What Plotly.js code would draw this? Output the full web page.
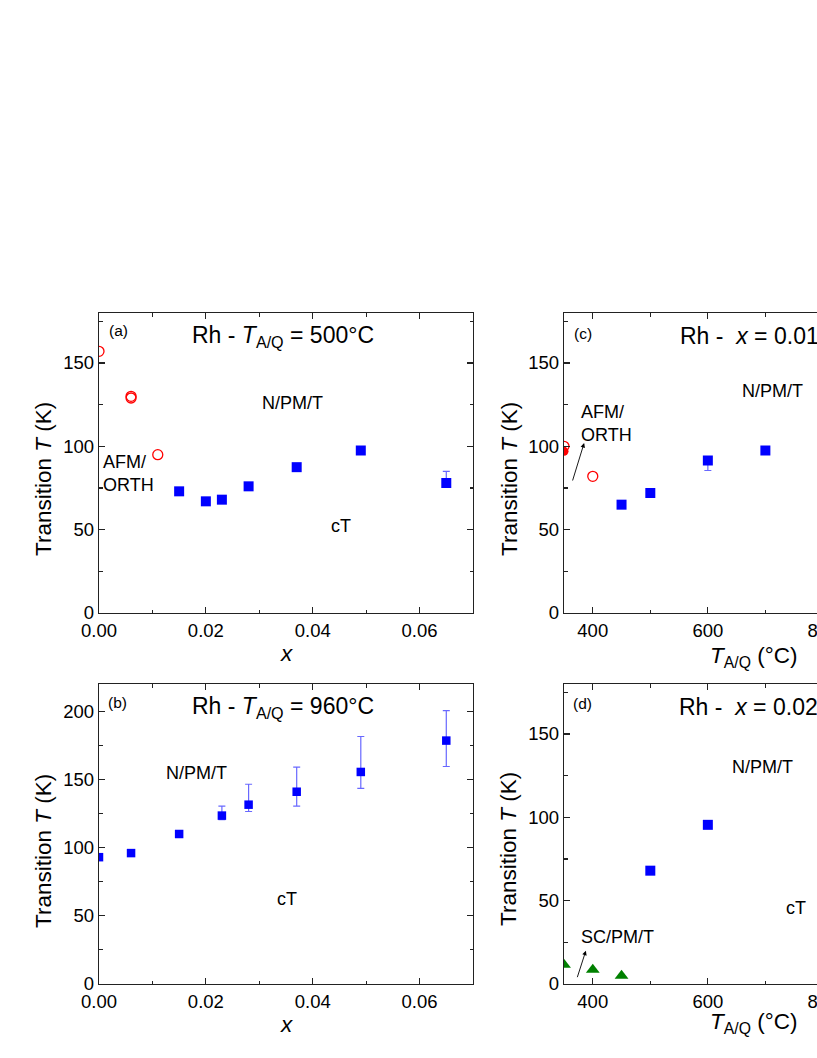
<!DOCTYPE html>
<html>
<head>
<meta charset="utf-8">
<script src="https://cdn.plot.ly/plotly-3.0.1.min.js"></script>
<style>
  body { margin: 0; overflow: hidden; background: #fff; }
  #myPlot { width: 1000px; height: 1058px; }
</style>
</head>
<body>
<div id="myPlot"></div>
<script>
// (a) Rh - T_A/Q = 500 C, vs x
const xaCirc = [0, 0.006, 0.006, 0.011];
const taCirc = [157, 130, 129, 95];
const xaSq = [0.015, 0.020, 0.023, 0.028, 0.037, 0.049, 0.065];
const taSq = [73, 67, 68, 76, 87.5, 97.5, 78];
const eaPlus = [0, 0, 0, 0, 0, 0, 7];
const eaMinus = [0, 0, 0, 0, 0, 0, 0];

// (b) Rh - T_A/Q = 960 C, vs x
const xbSq = [0, 0.006, 0.015, 0.023, 0.028, 0.037, 0.049, 0.065];
const tbSq = [93, 96, 110, 123.5, 131.5, 141, 155.5, 178.5];
const ebPlus = [0, 0, 0, 7, 15, 18, 26, 22];
const ebMinus = [0, 0, 0, 3, 5, 10.5, 12, 19];

// (c) Rh - x = 0.015, vs T_A/Q
const xcCirc = [350, 400, 800];
const tcCirc = [100, 82, 60];
const xcDot = [350];
const tcDot = [97];
const xcSq = [450, 500, 600, 700];
const tcSq = [65, 72, 91.5, 97.5];
const ecPlus = [0, 0, 0, 0];
const ecMinus = [0, 0, 6, 0];

// (d) Rh - x = 0.023, vs T_A/Q
const xdSq = [500, 600];
const tdSq = [68, 95.5];
const xdTri = [350, 400, 450];
const tdTri = [11.5, 8.5, 5];

const font = "Liberation Sans, Arial, sans-serif";
const blue = "#0000ff";
const red = "#ff0000";
const green = "#008000";
const errColor = "rgba(40,40,255,0.7)";

function errBar(plus, minus) {
  return {type: "data", symmetric: false, array: plus, arrayminus: minus,
          color: errColor, thickness: 1.2, width: 3.5};
}

const data = [
  {x: xaCirc, y: taCirc, xaxis: "x", yaxis: "y", mode: "markers",
   marker: {symbol: "circle-open", size: 10, color: red, line: {width: 1.3}}},
  {x: xaSq, y: taSq, xaxis: "x", yaxis: "y", mode: "markers",
   error_y: errBar(eaPlus, eaMinus),
   marker: {symbol: "square", size: 10, color: blue}},

  {x: xbSq, y: tbSq, xaxis: "x2", yaxis: "y2", mode: "markers",
   error_y: errBar(ebPlus, ebMinus),
   marker: {symbol: "square", size: 8.5, color: blue}},

  {x: xcCirc, y: tcCirc, xaxis: "x3", yaxis: "y3", mode: "markers",
   marker: {symbol: "circle-open", size: 10, color: red, line: {width: 1.3}}},
  {x: xcDot, y: tcDot, xaxis: "x3", yaxis: "y3", mode: "markers",
   marker: {symbol: "circle", size: 9, color: red}},
  {x: xcSq, y: tcSq, xaxis: "x3", yaxis: "y3", mode: "markers",
   error_y: errBar(ecPlus, ecMinus),
   marker: {symbol: "square", size: 10, color: blue}},

  {x: xdSq, y: tdSq, xaxis: "x4", yaxis: "y4", mode: "markers",
   marker: {symbol: "square", size: 10, color: blue}},
  {x: xdTri, y: tdTri, xaxis: "x4", yaxis: "y4", mode: "markers",
   marker: {symbol: "triangle-up", size: 12, color: green}}
];

// common axis look: box, ticks inside, minor ticks
function ax(domain, range, dtick, minor, anchor, fmt) {
  return {
    domain: domain, range: range, anchor: anchor,
    dtick: dtick, tick0: 0, tickformat: fmt,
    showgrid: false, zeroline: false,
    showline: true, linecolor: "#222", linewidth: 1.3, mirror: "ticks",
    ticks: "inside", ticklen: 6, tickwidth: 1.2, tickcolor: "#222",
    minor: {dtick: minor, ticks: "inside", ticklen: 3.5, tickwidth: 1.1, tickcolor: "#222"},
    tickfont: {family: font, size: 18.5, color: "#000"}
  };
}

const W = 1000, H = 1058;
const colA = [99 / W, 473 / W];
const colC = [564 / W, 938 / W];
const rowTop = [(H - 613) / H, (H - 313) / H];
const rowBot = [(H - 984) / H, (H - 684) / H];

function lab(text, xref, yref, x, y, size, anchor) {
  return {text: text, xref: xref, yref: yref, x: x, y: y, showarrow: false,
          xanchor: anchor || "center", yanchor: "middle", align: anchor || "center",
          font: {family: font, size: size, color: "#000"}};
}

function rot(text, x, y) {
  return {text: text, xref: "paper", yref: "paper", x: x / W, y: (H - y) / H,
          showarrow: false, textangle: -90, xanchor: "center", yanchor: "middle",
          font: {family: font, size: 22.5, color: "#000"}};
}

const yTitle = "Transition <i>T</i> (K)";
const tTitle = "<i>T</i><sub>A/Q</sub> (°C)";

const annotations = [
  // (a)
  lab("(a)", "x", "y", 0.0037, 169.5, 15.5),
  lab("Rh - <i>T</i><sub>A/Q</sub> = 500°C", "x", "y", 0.0345, 166, 23),
  lab("N/PM/T", "x", "y", 0.0363, 126, 18),
  lab("AFM/<br>ORTH", "x", "y", 0.0003, 84, 18, "left"),
  lab("cT", "x", "y", 0.0452, 52, 18),
  // (b)
  lab("(b)", "x2", "y2", 0.0034, 206.5, 15.5),
  lab("Rh - <i>T</i><sub>A/Q</sub> = 960°C", "x2", "y2", 0.0345, 203, 23),
  lab("N/PM/T", "x2", "y2", 0.0183, 154.5, 18),
  lab("cT", "x2", "y2", 0.0351, 62, 18),
  // (c)
  lab("(c)", "x3", "y3", 383, 167.5, 15.5),
  lab("Rh - &nbsp;<i>x</i> = 0.015", "x3", "y3", 548, 166, 23, "left"),
  lab("N/PM/T", "x3", "y3", 712, 133, 18),
  lab("AFM/<br>ORTH", "x3", "y3", 376, 113.5, 18, "left"),
  {x: 385, y: 102, xref: "x3", yref: "y3", text: "", showarrow: true,
   ax: -12, ay: 39, arrowhead: 2, arrowsize: 1, arrowwidth: 0.9, arrowcolor: "#000"},
  // (d)
  lab("(d)", "x4", "y4", 383, 168.5, 15.5),
  lab("Rh - &nbsp;<i>x</i> = 0.023", "x4", "y4", 546, 166.5, 23, "left"),
  lab("N/PM/T", "x4", "y4", 695, 130.5, 18),
  lab("cT", "x4", "y4", 753, 45.5, 18),
  lab("SC/PM/T", "x4", "y4", 376, 28, 18, "left"),
  {x: 388, y: 20, xref: "x4", yref: "y4", text: "", showarrow: true,
   ax: -9, ay: 28, arrowhead: 2, arrowsize: 1, arrowwidth: 0.9, arrowcolor: "#000"},
  // axis titles
  rot(yTitle, 43, 479),
  rot(yTitle, 43, 851),
  rot(yTitle, 509, 479),
  rot(yTitle, 508, 849),
  lab("<i>x</i>", "paper", "paper", 286 / W, (H - 653) / H, 22.5),
  lab("<i>x</i>", "paper", "paper", 286 / W, (H - 1024) / H, 22.5),
  lab(tTitle, "paper", "paper", 753 / W, (H - 657) / H, 22.5),
  lab(tTitle, "paper", "paper", 753 / W, (H - 1023) / H, 22.5)
];

const layout = {
  width: W, height: H,
  margin: {l: 0, r: 0, t: 0, b: 0},
  paper_bgcolor: "#fff", plot_bgcolor: "#fff",
  showlegend: false,
  xaxis: ax(colA, [0, 0.07], 0.02, 0.01, "y", ".2f"),
  yaxis: ax(rowTop, [0, 180], 50, 25, "x"),
  xaxis2: ax(colA, [0, 0.07], 0.02, 0.01, "y2", ".2f"),
  yaxis2: ax(rowBot, [0, 220], 50, 25, "x2"),
  xaxis3: ax(colC, [350, 1000], 200, 100, "y3"),
  yaxis3: ax(rowTop, [0, 180], 50, 25, "x3"),
  xaxis4: ax(colC, [350, 1000], 200, 100, "y4"),
  yaxis4: ax(rowBot, [0, 180], 50, 25, "x4"),
  annotations: annotations
};

Plotly.newPlot("myPlot", data, layout, {displayModeBar: false, staticPlot: true});
</script>
</body>
</html>
